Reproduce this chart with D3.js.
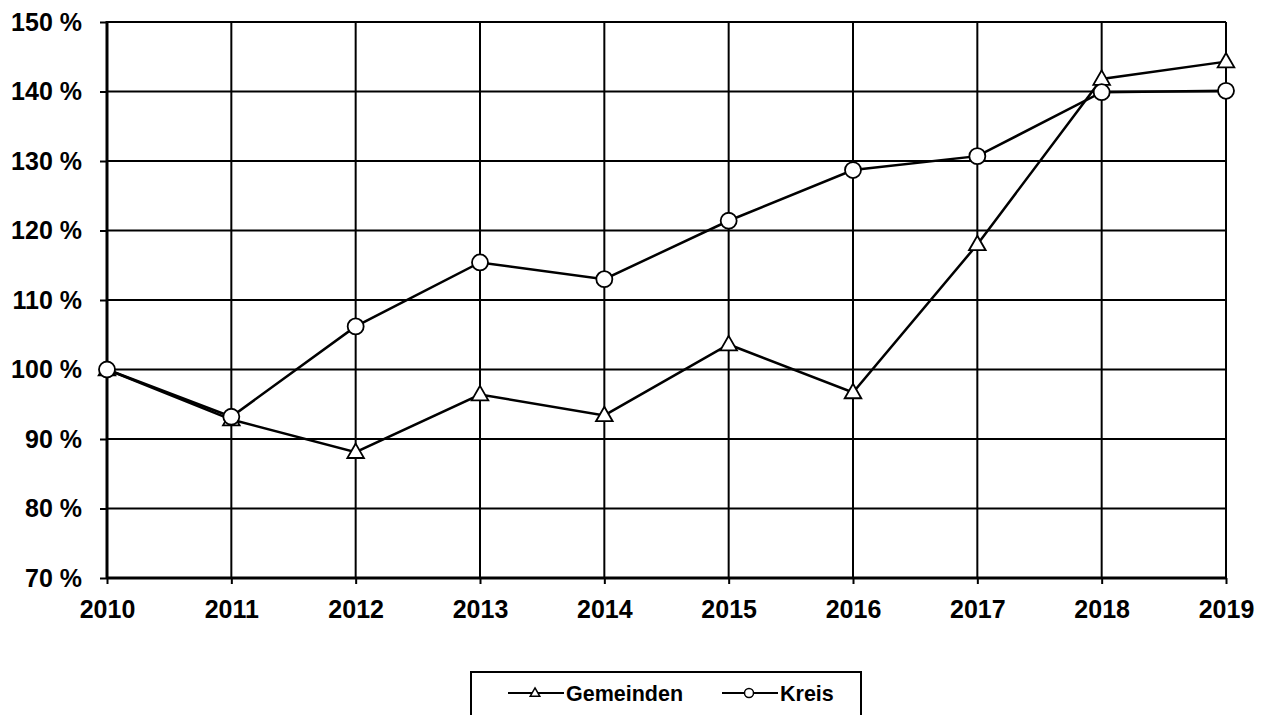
<!DOCTYPE html>
<html>
<head>
<meta charset="utf-8">
<script src="https://cdn.jsdelivr.net/npm/d3@7"></script>
<style>
  body { margin: 0; background: #fff; }
  text { font-family: "Liberation Sans", Arial, sans-serif; font-weight: bold; fill: #000; }
</style>
</head>
<body>
<script>
const years = [2010, 2011, 2012, 2013, 2014, 2015, 2016, 2017, 2018, 2019];
const gemeinden = [100, 92.8, 88.1, 96.4, 93.4, 103.6, 96.7, 118.0, 141.8, 144.3];
const kreis = [100, 93.2, 106.2, 115.4, 113.0, 121.4, 128.7, 130.7, 139.9, 140.1];
const yTicks = [70, 80, 90, 100, 110, 120, 130, 140, 150];

const width = 1271, height = 715;
const margin = { top: 22, right: 45, bottom: 137, left: 107 };

const svg = d3.select("body").append("svg").attr("width", width).attr("height", height);

const x = d3.scalePoint().domain(years).range([margin.left, width - margin.right]);
const y = d3.scaleLinear().domain([70, 150]).range([height - margin.bottom, margin.top]);

// grid
svg.append("g").selectAll("line").data(yTicks).enter().append("line")
    .attr("x1", margin.left).attr("x2", width - margin.right)
    .attr("y1", d => y(d)).attr("y2", d => y(d))
    .attr("stroke", "#000").attr("stroke-width", 2);
svg.append("g").selectAll("line").data(years.slice(1)).enter().append("line")
    .attr("x1", d => x(d)).attr("x2", d => x(d))
    .attr("y1", y(150)).attr("y2", y(70))
    .attr("stroke", "#000").attr("stroke-width", 2);

// axes
const yAxis = svg.append("g")
    .attr("transform", "translate(" + margin.left + ",0)")
    .call(d3.axisLeft(y).tickValues(yTicks).tickSize(7).tickPadding(18).tickFormat(d => d + " %"));
const xAxis = svg.append("g")
    .attr("transform", "translate(0," + y(70) + ")")
    .call(d3.axisBottom(x).tickSize(6).tickPadding(16).tickFormat(d3.format("d")));
[xAxis, yAxis].forEach(a => {
  a.select(".domain").remove();
  a.attr("font-size", null).attr("font-family", null);
  a.selectAll("line").attr("stroke", "#000").attr("stroke-width", 2);
  a.selectAll("text").style("font-size", "25px");
});
svg.append("line").attr("x1", margin.left).attr("x2", margin.left)
    .attr("y1", y(150) - 1).attr("y2", y(70) + 1).attr("stroke", "#000").attr("stroke-width", 3);
svg.append("line").attr("x1", margin.left).attr("x2", width - margin.right)
    .attr("y1", y(70)).attr("y2", y(70)).attr("stroke", "#000").attr("stroke-width", 3);

const line = d3.line().x((d, i) => x(years[i])).y(d => y(d));
const tri = d3.symbol().type(d3.symbolTriangle);

function drawSeries(values, marker) {
  svg.append("path").datum(values).attr("d", line)
      .attr("fill", "none").attr("stroke", "#000").attr("stroke-width", 2.5);
  const g = svg.append("g");
  if (marker === "tri") {
    g.selectAll("path").data(values).enter().append("path")
        .attr("d", tri.size(120))
        .attr("transform", (d, i) => "translate(" + x(years[i]) + "," + (y(d) + 1) + ")")
        .attr("fill", "#fff").attr("stroke", "#000").attr("stroke-width", 1.8);
  } else {
    g.selectAll("circle").data(values).enter().append("circle")
        .attr("cx", (d, i) => x(years[i])).attr("cy", d => y(d)).attr("r", 8)
        .attr("fill", "#fff").attr("stroke", "#000").attr("stroke-width", 1.8);
  }
}
drawSeries(gemeinden, "tri");
drawSeries(kreis, "circ");

// legend
const leg = svg.append("g");
leg.append("rect").attr("x", 471).attr("y", 672).attr("width", 390).attr("height", 60)
    .attr("fill", "#fff").attr("stroke", "#000").attr("stroke-width", 2);
const items = [
  { name: "Gemeinden", marker: "tri", x0: 508 },
  { name: "Kreis", marker: "circ", x0: 722 }
];
items.forEach(it => {
  const ly = 693;
  leg.append("line").attr("x1", it.x0).attr("x2", it.x0 + 56).attr("y1", ly).attr("y2", ly)
      .attr("stroke", "#000").attr("stroke-width", 2);
  if (it.marker === "tri") {
    leg.append("path").attr("d", tri.size(40)).attr("transform", "translate(" + (it.x0 + 27) + "," + (ly + 0.5) + ")")
        .attr("fill", "#fff").attr("stroke", "#000").attr("stroke-width", 1.5);
  } else {
    leg.append("circle").attr("cx", it.x0 + 27).attr("cy", ly).attr("r", 4.5)
        .attr("fill", "#fff").attr("stroke", "#000").attr("stroke-width", 1.5);
  }
  leg.append("text").attr("x", it.x0 + 58).attr("y", ly).attr("dy", "0.36em")
      .style("font-size", "21.5px").text(it.name);
});
</script>
</body>
</html>
